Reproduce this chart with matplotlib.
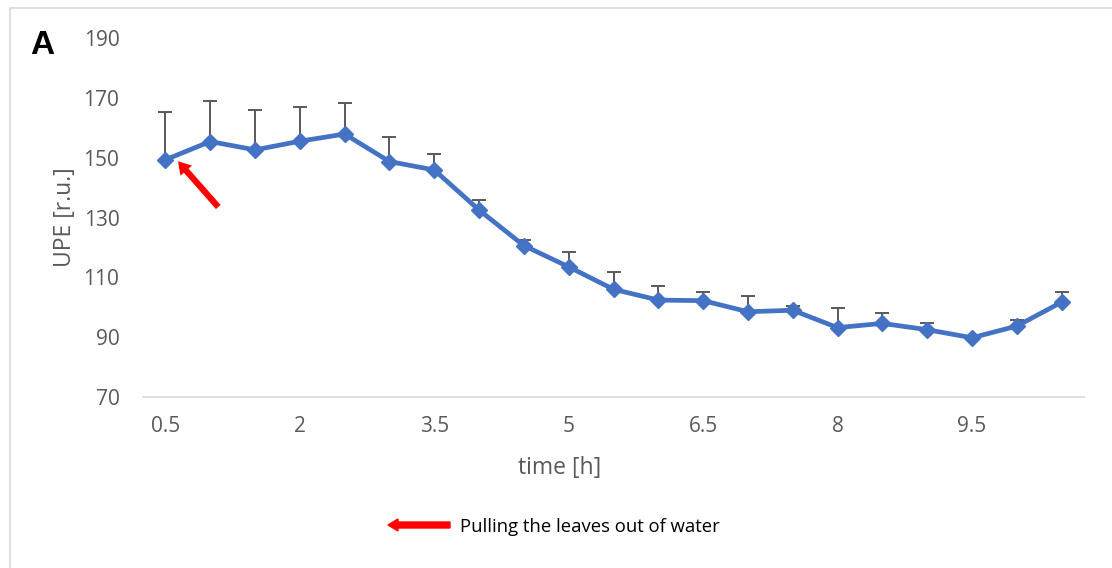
import matplotlib
matplotlib.use("Agg")
import matplotlib.pyplot as plt
from matplotlib.patches import Rectangle, FancyArrow
import numpy as np

plt.rcParams['font.family'] = ['Open Sans', 'DejaVu Sans']

time_h = [0.5, 1, 1.5, 2, 2.5, 3, 3.5, 4, 4.5, 5, 5.5, 6, 6.5, 7, 7.5, 8, 8.5, 9, 9.5, 10, 10.5]
upe = [149.3, 155.4, 152.6, 155.5, 157.9, 148.7, 145.9, 132.5, 120.6, 113.5, 106.0, 102.4,
       102.2, 98.5, 99.0, 93.2, 94.6, 92.5, 89.8, 93.7, 101.7]
upe_err = [15.8, 13.4, 13.4, 11.3, 10.3, 8.1, 5.4, 3.4, 2.0, 5.1, 5.7, 4.6,
           3.0, 5.3, 1.3, 6.6, 3.6, 2.4, 0.5, 2.1, 3.5]
tick_labels = ['0.5', '2', '3.5', '5', '6.5', '8', '9.5']
y_ticks = [70, 90, 110, 130, 150, 170, 190]

W, H = 1112, 568
fig = plt.figure(figsize=(W / 100, H / 100), dpi=100)
ax = fig.add_axes([143 / W, 1 - 397 / H, (1084 - 143) / W, (397 - 38) / H])

x = np.arange(len(time_h))
blue = '#4472C4'
grey_txt = '#595959'

ax.errorbar(x, upe, yerr=[np.zeros(len(upe)), upe_err], fmt='none',
            ecolor='#595959', elinewidth=1.4, capsize=5, capthick=1.4, zorder=2)
ax.plot(x, upe, color=blue, lw=3.4, marker='D', markersize=8, zorder=3,
        solid_joinstyle='round')

ax.set_xlim(-0.5, len(x) - 0.5)
ax.set_ylim(70, 190)
ax.set_yticks(y_ticks)
ax.set_yticklabels([str(v) for v in y_ticks])
ax.set_xticks(x[::3])
ax.set_xticklabels(tick_labels)
ax.tick_params(axis='both', length=0, labelsize=15, colors=grey_txt)
ax.tick_params(axis='x', pad=14)
ax.tick_params(axis='y', pad=17)
for s in ['top', 'right', 'left']:
    ax.spines[s].set_visible(False)
ax.spines['bottom'].set_color('#D9D9D9')
ax.spines['bottom'].set_linewidth(1.2)
ax.set_xlabel('time [h]', fontsize=16.5, color=grey_txt, labelpad=9)
ax.xaxis.set_label_coords((560 - 143) / (1084 - 143), -0.165)
ax.set_ylabel('UPE [r.u.]', fontsize=16.5, color=grey_txt, labelpad=5)

# red arrow pointing at the first point
ax.annotate('', xy=(x[0] + 0.28, upe[0] - 0.5), xytext=(x[0] + 1.18, upe[0] - 15.8),
            arrowprops=dict(arrowstyle='simple,head_width=1.1,head_length=0.9,tail_width=0.45',
                            color='#FF0000', lw=0, shrinkA=0, shrinkB=0))

# panel letter
fig.text(42 / W, 1 - 45 / H, 'A', fontsize=24, fontweight='bold', va='center', ha='center',
         family='Liberation Sans')

# legend-like annotation at bottom
fig.patches.append(FancyArrow(450 / W, 1 - 525 / H, -62 / W, 0, width=6 / H,
                              head_width=12 / H, head_length=10 / W,
                              length_includes_head=True, color='#FF0000',
                              transform=fig.transFigure, figure=fig))
fig.text(460 / W, 1 - 527 / H, 'Pulling the leaves out of water', fontsize=13.3,
         color='black', va='center', ha='left')

# outer chart border
fig.patches.append(Rectangle((10 / W, -0.01), 1.02, 1 - 8 / H + 0.01, fill=False,
                             edgecolor='#D9D9D9', lw=1.2, transform=fig.transFigure,
                             figure=fig))

fig.savefig('out.png', dpi=100)
